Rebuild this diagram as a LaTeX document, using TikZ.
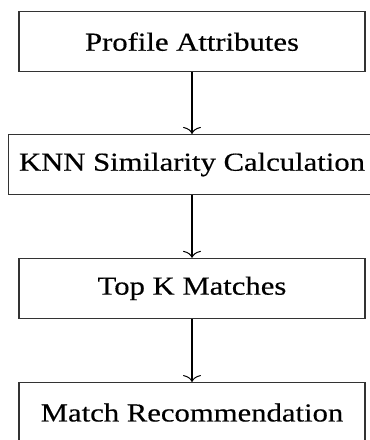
\documentclass[tikz,border=0pt]{standalone}
\usepackage{fontspec}
\setmainfont{Liberation Serif}[FakeStretch=1.18,FakeBold=0.4]
\usetikzlibrary{arrows.meta}
\begin{document}
\begin{tikzpicture}[x=1pt,y=-1pt,
  stepbox/.style={draw=black!80, line width=1.1pt, rectangle, minimum height=60pt,
    inner xsep=1pt, font=\fontsize{26}{30}\selectfont, text=black},
  flow/.style={line width=2pt, -{To[length=7pt,width=18pt,line width=1pt]}}]
\useasboundingbox (0,0) rectangle (370,440);
\node[stepbox, minimum width=346pt] (a) at (192,41.7) {Profile Attributes};
\node[stepbox, minimum width=367pt] (b) at (192,164.5) {KNN Similarity Calculation};
\node[stepbox, minimum width=346pt] (c) at (192,288.4) {Top K Matches};
\node[stepbox, minimum width=346pt] (d) at (192,412.6) {Match Recommendation};
\draw[flow] (a.south) -- (b.north);
\draw[flow] (b.south) -- (c.north);
\draw[flow] (c.south) -- (d.north);
\end{tikzpicture}
\end{document}
